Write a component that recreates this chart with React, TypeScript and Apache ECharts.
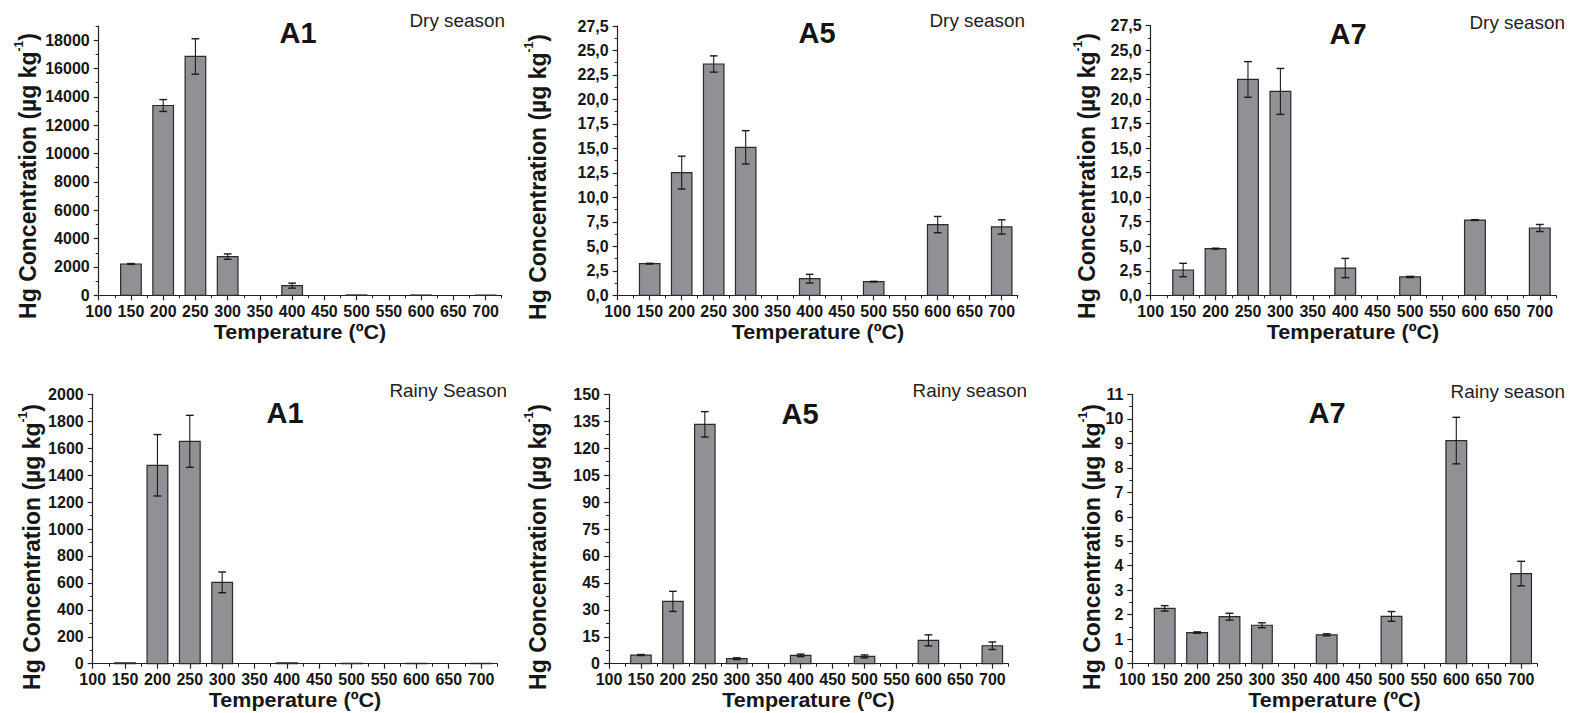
import React, { useEffect, useRef } from 'react';
import * as echarts from 'echarts';

// ---------- data ----------
const TEMPS = [150, 200, 250, 300, 400, 500, 600, 700];

const A1_DRY = [2210, 13390, 16850, 2730, 680, 25, 20, 15];
const A1_DRY_ERR = [30, 420, 1250, 190, 175, 0, 0, 0];

const A5_DRY = [3.23, 12.53, 23.62, 15.11, 1.7, 1.4, 7.22, 6.98];
const A5_DRY_ERR = [0.04, 1.68, 0.83, 1.7, 0.44, 0.03, 0.83, 0.73];

const A7_DRY = [2.58, 4.75, 22.0, 20.78, 2.78, 1.87, 7.67, 6.86];
const A7_DRY_ERR = [0.68, 0.05, 1.82, 2.34, 0.98, 0.06, 0.04, 0.36];

const A1_RAINY = [7, 1473, 1651, 604, 7, 3, 3, 3];
const A1_RAINY_ERR = [0, 228, 193, 77, 0, 0, 0, 0];

const A5_RAINY = [4.83, 34.7, 133.3, 2.78, 4.64, 4.08, 13.0, 10.0];
const A5_RAINY_ERR = [0.3, 5.6, 7.05, 0.5, 0.7, 0.8, 3.06, 2.1];

const A7_RAINY = [2.26, 1.27, 1.92, 1.57, 1.18, 1.93, 9.11, 3.68];
const A7_RAINY_ERR = [0.11, 0.03, 0.14, 0.1, 0.04, 0.2, 0.95, 0.5];

// ---------- ticks ----------
const X_MAJOR = [100, 150, 200, 250, 300, 350, 400, 450, 500, 550, 600, 650, 700];
const X_MINOR = [125, 175, 225, 275, 325, 375, 425, 475, 525, 575, 625, 675, 725];

const Y_A1_DRY_MAJOR = [0, 2000, 4000, 6000, 8000, 10000, 12000, 14000, 16000, 18000];
const Y_A1_DRY_MINOR = [1000, 3000, 5000, 7000, 9000, 11000, 13000, 15000, 17000, 19000];

const Y_DRY_MAJOR = [0, 2.5, 5, 7.5, 10, 12.5, 15, 17.5, 20, 22.5, 25, 27.5];
const Y_DRY_MINOR = [1.25, 3.75, 6.25, 8.75, 11.25, 13.75, 16.25, 18.75, 21.25, 23.75, 26.25];

const Y_A1_RAINY_MAJOR = [0, 200, 400, 600, 800, 1000, 1200, 1400, 1600, 1800, 2000];
const Y_A1_RAINY_MINOR = [100, 300, 500, 700, 900, 1100, 1300, 1500, 1700, 1900];

const Y_A5_RAINY_MAJOR = [0, 15, 30, 45, 60, 75, 90, 105, 120, 135, 150];
const Y_A5_RAINY_MINOR = [7.5, 22.5, 37.5, 52.5, 67.5, 82.5, 97.5, 112.5, 127.5, 142.5];

const Y_A7_RAINY_MAJOR = [0, 1, 2, 3, 4, 5, 6, 7, 8, 9, 10, 11];
const Y_A7_RAINY_MINOR = [0.5, 1.5, 2.5, 3.5, 4.5, 5.5, 6.5, 7.5, 8.5, 9.5, 10.5];

// ---------- style ----------
const FONT = '"Liberation Sans", Arial, Helvetica, sans-serif';
const AXIS = '#222222';
const TXT = '#161616';
const BAR_FILL = '#909195';
const BAR_STROKE = '#2a2a2a';
const ERR = '#1a1a1a';
const BAR_W = 32;
const CAP_W = 12;
const X_MIN = 100;
const X_MAX = 725;

type Panel = {
  title: string;
  season: string;
  vals: number[];
  errs: number[];
  yMax: number;
  yMajor: number[];
  yMinor: number[];
  decimals: number;
  box: [number, number, number, number];
  titlePos: [number, number];
  seasonPos: [number, number];
  yNamePos: [number, number];
  xNamePos: [number, number];
};

const PANELS: Panel[] = [
  {
    title: 'A1', season: 'Dry season', vals: A1_DRY, errs: A1_DRY_ERR, yMax: 19000,
    yMajor: Y_A1_DRY_MAJOR, yMinor: Y_A1_DRY_MINOR, decimals: 0,
    box: [98.7, 26, 403, 269.3], titlePos: [298, 33], seasonPos: [505, 21],
    yNamePos: [28, 176], xNamePos: [300, 332],
  },
  {
    title: 'A5', season: 'Dry season', vals: A5_DRY, errs: A5_DRY_ERR, yMax: 27.5,
    yMajor: Y_DRY_MAJOR, yMinor: Y_DRY_MINOR, decimals: 1,
    box: [617.7, 26, 400, 269.3], titlePos: [817, 33], seasonPos: [1025, 21],
    yNamePos: [538, 177], xNamePos: [818, 332],
  },
  {
    title: 'A7', season: 'Dry season', vals: A7_DRY, errs: A7_DRY_ERR, yMax: 27.5,
    yMajor: Y_DRY_MAJOR, yMinor: Y_DRY_MINOR, decimals: 1,
    box: [1150.7, 25.5, 405.3, 269.8], titlePos: [1348, 34], seasonPos: [1565, 23],
    yNamePos: [1087, 176], xNamePos: [1353, 332],
  },
  {
    title: 'A1', season: 'Rainy Season', vals: A1_RAINY, errs: A1_RAINY_ERR, yMax: 2000,
    yMajor: Y_A1_RAINY_MAJOR, yMinor: Y_A1_RAINY_MINOR, decimals: 0,
    box: [92.7, 394.3, 404.6, 269.4], titlePos: [285, 413], seasonPos: [507, 391],
    yNamePos: [32, 547], xNamePos: [295, 700],
  },
  {
    title: 'A5', season: 'Rainy season', vals: A5_RAINY, errs: A5_RAINY_ERR, yMax: 150,
    yMajor: Y_A5_RAINY_MAJOR, yMinor: Y_A5_RAINY_MINOR, decimals: 0,
    box: [609, 394.3, 399.3, 269.4], titlePos: [800, 414], seasonPos: [1027, 391],
    yNamePos: [538, 547], xNamePos: [808.5, 700],
  },
  {
    title: 'A7', season: 'Rainy season', vals: A7_RAINY, errs: A7_RAINY_ERR, yMax: 11,
    yMajor: Y_A7_RAINY_MAJOR, yMinor: Y_A7_RAINY_MINOR, decimals: 0,
    box: [1132.3, 394.3, 405, 269.4], titlePos: [1327, 413], seasonPos: [1565, 392],
    yNamePos: [1092, 547], xNamePos: [1334.5, 700],
  },
];

const renderItem = (_params: any, api: any) => {
  const x = api.value(0);
  const y = api.value(1);
  const e = api.value(2);
  const p0 = api.coord([x - BAR_W / 2, 0]);
  const p1 = api.coord([x + BAR_W / 2, y]);
  const c = api.coord([x, y]);
  const top = api.coord([x, y + e]);
  const bot = api.coord([x, y - e]);
  const cl = api.coord([x - CAP_W / 2, y])[0];
  const cr = api.coord([x + CAP_W / 2, y])[0];
  const children: any[] = [
    {
      type: 'rect',
      shape: { x: p0[0], y: p1[1], width: p1[0] - p0[0], height: p0[1] - p1[1] },
      style: { fill: BAR_FILL, stroke: BAR_STROKE, lineWidth: 1.2 },
    },
  ];
  if (e > 0) {
    children.push(
      { type: 'line', shape: { x1: c[0], y1: top[1], x2: c[0], y2: bot[1] }, style: { stroke: ERR, lineWidth: 1.1 } },
      { type: 'line', shape: { x1: cl, y1: top[1], x2: cr, y2: top[1] }, style: { stroke: ERR, lineWidth: 1.4 } },
      { type: 'line', shape: { x1: cl, y1: bot[1], x2: cr, y2: bot[1] }, style: { stroke: ERR, lineWidth: 1.4 } },
    );
  }
  return { type: 'group', children };
};

const fmt = (decimals: number) => (v: number) =>
  decimals > 0 ? v.toFixed(decimals).replace('.', ',') : String(v);

function buildOption() {
  const grid: any[] = [];
  const xAxis: any[] = [];
  const yAxis: any[] = [];
  const series: any[] = [];
  const graphic: any[] = [];

  PANELS.forEach((p, i) => {
    const [l, t, w, h] = p.box;
    grid.push({ left: l, top: t, width: w, height: h, containLabel: false });

    const labelStyle = { color: TXT, fontSize: 16, fontWeight: 'bold', fontFamily: FONT };

    xAxis.push({
      type: 'value', gridIndex: i, min: X_MIN, max: X_MAX, position: 'bottom',
      axisLine: { show: true, onZero: false, lineStyle: { color: AXIS, width: 1.2 } },
      axisTick: { show: true, inside: false, length: 5, customValues: X_MAJOR, lineStyle: { color: AXIS, width: 1.2 } },
      axisLabel: { show: true, customValues: X_MAJOR, margin: 8, ...labelStyle },
      splitLine: { show: false },
    });
    xAxis.push({
      type: 'value', gridIndex: i, min: X_MIN, max: X_MAX, position: 'bottom',
      axisLine: { show: false, onZero: false },
      axisTick: { show: true, inside: false, length: 3, customValues: X_MINOR, lineStyle: { color: AXIS, width: 1 } },
      axisLabel: { show: false },
      splitLine: { show: false },
    });

    yAxis.push({
      type: 'value', gridIndex: i, min: 0, max: p.yMax, position: 'left',
      axisLine: { show: true, onZero: false, lineStyle: { color: AXIS, width: 1.2 } },
      axisTick: { show: true, inside: false, length: 5, customValues: p.yMajor, lineStyle: { color: AXIS, width: 1.2 } },
      axisLabel: { show: true, customValues: p.yMajor, margin: 9, formatter: fmt(p.decimals), ...labelStyle },
      splitLine: { show: false },
    });
    yAxis.push({
      type: 'value', gridIndex: i, min: 0, max: p.yMax, position: 'left', offset: 0,
      axisLine: { show: false, onZero: false },
      axisTick: { show: true, inside: false, length: 3, customValues: p.yMinor, lineStyle: { color: AXIS, width: 1 } },
      axisLabel: { show: false },
      splitLine: { show: false },
    });

    series.push({
      type: 'custom',
      name: p.title + ' ' + p.season,
      xAxisIndex: 2 * i,
      yAxisIndex: 2 * i,
      renderItem,
      clip: false,
      encode: { x: 0, y: 1 },
      data: TEMPS.map((tv, k) => [tv, p.vals[k], p.errs[k]]),
    });

    graphic.push(
      {
        type: 'text', x: p.titlePos[0], y: p.titlePos[1],
        style: { text: p.title, fill: '#141414', font: `bold 29px ${FONT}`, align: 'center', verticalAlign: 'middle' },
      },
      {
        type: 'text', x: p.seasonPos[0], y: p.seasonPos[1], scaleX: 1.08,
        style: { text: p.season, fill: '#222222', font: `17.5px ${FONT}`, align: 'right', verticalAlign: 'middle' },
      },
      {
        type: 'text', x: p.xNamePos[0], y: p.xNamePos[1], scaleX: 1.05,
        style: { text: 'Temperature (ºC)', fill: TXT, font: `bold 20.5px ${FONT}`, align: 'center', verticalAlign: 'middle' },
      },
      {
        type: 'text', x: p.yNamePos[0], y: p.yNamePos[1], rotation: Math.PI / 2,
        style: {
          text: '{n|Hg Concentration (µg kg}{s|-1}{n|)}',
          align: 'center', verticalAlign: 'middle', fill: TXT,
          rich: {
            n: { fontSize: 23, fontWeight: 'bold', fontFamily: FONT, fill: TXT, lineHeight: 30, verticalAlign: 'middle' },
            s: { fontSize: 12, fontWeight: 'bold', fontFamily: FONT, fill: TXT, lineHeight: 12, verticalAlign: 'top' },
          },
        },
      },
    );
  });

  return {
    animation: false,
    backgroundColor: '#ffffff',
    grid,
    xAxis,
    yAxis,
    series,
    graphic,
  };
}

export default function App() {
  const ref = useRef<HTMLDivElement>(null);
  useEffect(() => {
    document.body.style.margin = '0';
    document.body.style.overflow = 'hidden';
    if (!ref.current) return;
    const chart = echarts.init(ref.current, undefined, { renderer: 'svg' });
    chart.setOption(buildOption() as any);
    return () => chart.dispose();
  }, []);
  return <div ref={ref} style={{ width: 1569, height: 713 }} />;
}
